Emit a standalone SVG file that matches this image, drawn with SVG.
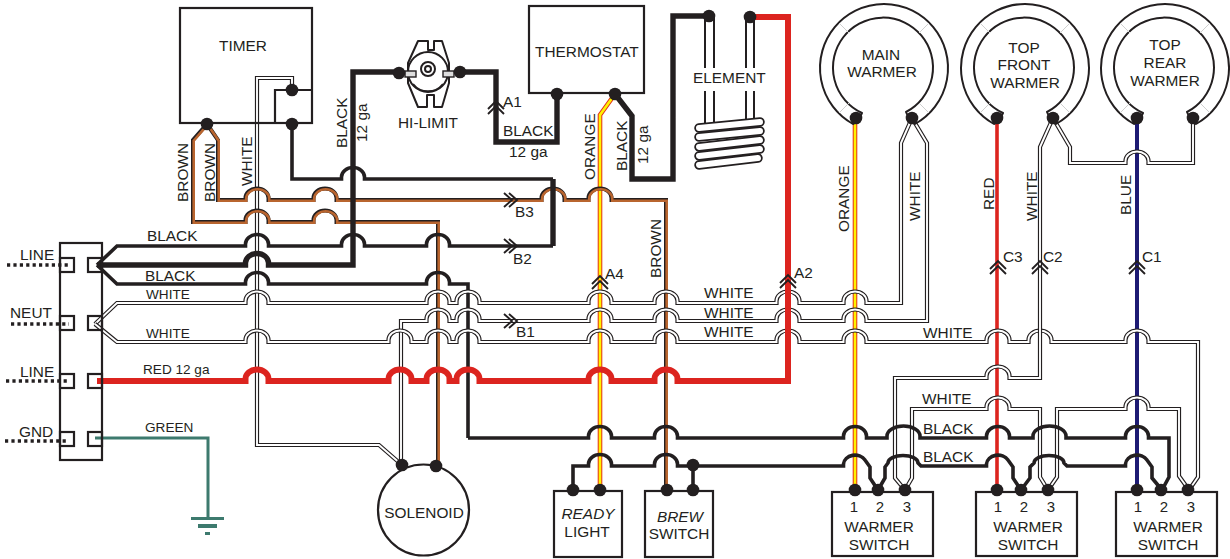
<svg xmlns="http://www.w3.org/2000/svg" width="1230" height="559" viewBox="0 0 1230 559">
<style>
text{font-family:"Liberation Sans",Arial,sans-serif;font-size:15.4px;fill:#231f20}
.m{text-anchor:middle}
.s13{font-size:13.6px}
.n{font-size:15px}
.i{font-style:italic}
.box{fill:none;stroke:#231f20;stroke-width:2.2}
.ln{fill:none;stroke:#231f20;stroke-width:2;stroke-linejoin:round}
.dot{fill:#231f20}
.wo{fill:none;stroke:#231f20;stroke-width:4.2}
.wi{fill:none;stroke:#fff;stroke-width:1.9}
.bo{fill:none;stroke:#231f20;stroke-width:4}
.bi{fill:none;stroke:#b9652f;stroke-width:2.6;transform:translate(.7px,.7px)}
.k{fill:none;stroke:#231f20;stroke-width:3.6}
.K{fill:none;stroke:#231f20;stroke-width:5.4}
.r{fill:none;stroke:#dc241f;stroke-width:6}
.r2{fill:none;stroke:#dc241f;stroke-width:3.6}
.oo{fill:none;stroke:#e0301e;stroke-width:4.6}
.oi{fill:none;stroke:#fff200;stroke-width:2.6}
.g{fill:none;stroke:#3d7a6e;stroke-width:3}
.dash{fill:none;stroke:#231f20;stroke-width:3.6;stroke-dasharray:3.2 3.2}
.chev{fill:none;stroke:#231f20;stroke-width:1.9}
.tick{fill:none;stroke:#cfcfcf;stroke-width:1}
</style>
<defs>
<path id="cu" d="M-8 8L0 0L8 8M-8 13L0 5L8 13"/>
<path id="cr" d="M-8 -7L0 0L-8 7M-3 -7L5 0L-3 7"/>
<circle id="d" r="6.3"/>
<path id="wT" d="M292 90V78H257V445H379L402 465"/>
<path id="w303" d="M95 324L117 303H245.5v-2a11.5 9.5 0 0 1 23 0v2H426.5v-2a11.5 9.5 0 0 1 23 0v2H456.5v-2a11.5 9.5 0 0 1 23 0v2H588.5v-2a11.5 9.5 0 0 1 23 0v2H654.5v-2a11.5 9.5 0 0 1 23 0v2H776.5v-2a11.5 9.5 0 0 1 23 0v2H843.5v-2a11.5 9.5 0 0 1 23 0v2H901V143L912 118"/>
<path id="w321" d="M401 465V321H426.5v-2a11.5 9.5 0 0 1 23 0v2H456.5v-2a11.5 9.5 0 0 1 23 0v2H588.5v-2a11.5 9.5 0 0 1 23 0v2H654.5v-2a11.5 9.5 0 0 1 23 0v2H776.5v-2a11.5 9.5 0 0 1 23 0v2H843.5v-2a11.5 9.5 0 0 1 23 0v2H927V143L912 118"/>
<path id="w341" d="M95 324L117 342H245.5v-2a11.5 9.5 0 0 1 23 0v2H388.5v-2a11.5 9.5 0 0 1 23 0v2H426.5v-2a11.5 9.5 0 0 1 23 0v2H456.5v-2a11.5 9.5 0 0 1 23 0v2H588.5v-2a11.5 9.5 0 0 1 23 0v2H654.5v-2a11.5 9.5 0 0 1 23 0v2H776.5v-2a11.5 9.5 0 0 1 23 0v2H843.5v-2a11.5 9.5 0 0 1 23 0v2H986.5v-2a11.5 9.5 0 0 1 23 0v2H1028.5v-2a11.5 9.5 0 0 1 23 0v2H1125.5v-2a11.5 9.5 0 0 1 23 0v2H1198V477L1189 490"/>
<path id="w378" d="M905 490L895 478V378H986.5v-2a11.5 9.5 0 0 1 23 0v2H1040V147L1053 118"/>
<path id="w409a" d="M905 490L912 478V409H986.5v-2a11.5 9.5 0 0 1 23 0v2H1040V477L1048 490"/>
<path id="w409b" d="M1048 490L1057 477V409H1125.5v-2a11.5 9.5 0 0 1 23 0v2H1179V476L1189 490"/>
<path id="w163" d="M1053 118L1070 147V163H1125.5v-2a11.5 9.5 0 0 1 23 0v2H1193V118"/>
<path id="b222" d="M207 124L193 140V222H245.5v-2a11.5 9.5 0 0 1 23 0v2H313.5v-2a11.5 9.5 0 0 1 23 0v2H438V465"/>
<path id="b200" d="M207 124L218 140V200H245.5v-2a11.5 9.5 0 0 1 23 0v2H313.5v-2a11.5 9.5 0 0 1 23 0v2H541.5v-2a11.5 9.5 0 0 1 23 0v2H588.5v-2a11.5 9.5 0 0 1 23 0v2H666V490"/>
<path id="o1" d="M615 94L600 115V490"/>
<path id="o2" d="M855 118V490"/>
</defs>

<g id="connectors">
<use href="#wT" class="wo"/><use href="#wT" class="wi"/>
<path class="r2" d="M997 118V490"/>
<path d="M1137 118V490" fill="none" stroke="#1d1a73" stroke-width="4"/>
<use href="#o1" class="oo"/><use href="#o1" class="oi"/>
<use href="#o2" class="oo"/><use href="#o2" class="oi"/>
<use href="#b222" class="bo"/><use href="#b222" class="bi"/>
<use href="#b200" class="bo"/><use href="#b200" class="bi"/>
<path class="K" d="M97 265H245.5v-2a11.5 9.5 0 0 1 23 0v2H353V72H399"/>
<path class="K" d="M460 72H496V142H557V94"/>
<path class="K" d="M615 94L632 116V179H673V16H709"/>
<path class="k" d="M292 124V179H341.5v-2a11.5 9.5 0 0 1 23 0v2H553"/>
<path class="K" d="M553 179V246"/>
<path class="k" d="M97 265L117 284H245.5v-2a11.5 9.5 0 0 1 23 0v2H426.5v-2a11.5 9.5 0 0 1 23 0v2H468V438"/>
<path class="k" d="M97 265L117 246H245.5v-2a11.5 9.5 0 0 1 23 0v2H341.5v-2a11.5 9.5 0 0 1 23 0v2H426.5v-2a11.5 9.5 0 0 1 23 0v2H553"/>
<use href="#w303" class="wo"/><use href="#w303" class="wi"/>
<use href="#w321" class="wo"/><use href="#w321" class="wi"/>
<use href="#w341" class="wo"/><use href="#w341" class="wi"/>
<use href="#w378" class="wo"/><use href="#w378" class="wi"/>
<use href="#w409a" class="wo"/><use href="#w409a" class="wi"/>
<use href="#w409b" class="wo"/><use href="#w409b" class="wi"/>
<use href="#w163" class="wo"/><use href="#w163" class="wi"/>
<path class="r" d="M97 381H245.5v-2a11.5 9.5 0 0 1 23 0v2H388.5v-2a11.5 9.5 0 0 1 23 0v2H426.5v-2a11.5 9.5 0 0 1 23 0v2H456.5v-2a11.5 9.5 0 0 1 23 0v2H588.5v-2a11.5 9.5 0 0 1 23 0v2H654.5v-2a11.5 9.5 0 0 1 23 0v2H788V17H750"/>
<path class="k" d="M468 438H588.5v-2a11.5 9.5 0 0 1 23 0v2H654.5v-2a11.5 9.5 0 0 1 23 0v2H843.5v-2a11.5 9.5 0 0 1 23 0v2H887v-2a16.5 10 0 0 1 33 0v2H986.5v-2a11.5 9.5 0 0 1 23 0v2H1033v-2a16.5 10 0 0 1 33 0v2H1125.5v-2a11.5 9.5 0 0 1 23 0v2H1169V477L1162 490"/>
<path class="k" d="M573 490V466H588.5v-2a11.5 9.5 0 0 1 23 0v2H654.5v-2a11.5 9.5 0 0 1 23 0v2H843.5v-2A11.5 9.5 0 0 1 865 460L870 467V478L878 490L885 478V467L888 463a15 7.5 0 0 1 30 0L921 466H986.5v-2A11.5 9.5 0 0 1 1008 460L1013 467V478L1021 490L1030 478V467L1034 463a15 7.5 0 0 1 30 0L1067 466H1125.5v-2A11.5 9.5 0 0 1 1147 460L1152 467V478L1162 490"/>
<path class="k" d="M693 466V490"/>
<path class="g" d="M95 438H208V518"/>
</g>

<g id="wire-labels">
<text x="147" y="241">BLACK</text>
<text x="145" y="281">BLACK</text>
<text x="146" y="299" class="s13">WHITE</text>
<text x="146" y="338" class="s13">WHITE</text>
<text x="143" y="374" class="s13">RED 12 ga</text>
<text x="145" y="432" class="s13">GREEN</text>
<text transform="translate(188 202) rotate(-90)">BROWN</text>
<text transform="translate(215 202) rotate(-90)">BROWN</text>
<text transform="translate(252 186) rotate(-90)">WHITE</text>
<text transform="translate(347 148) rotate(-90)">BLACK</text>
<text transform="translate(367 142) rotate(-90)">12 ga</text>
<text x="503" y="136">BLACK</text>
<text x="509" y="157">12 ga</text>
<text transform="translate(595 180) rotate(-90)">ORANGE</text>
<text transform="translate(627 171) rotate(-90)">BLACK</text>
<text transform="translate(648 164) rotate(-90)">12 ga</text>
<text transform="translate(661 278) rotate(-90)">BROWN</text>
<text transform="translate(849 232) rotate(-90)">ORANGE</text>
<text transform="translate(920 221) rotate(-90)">WHITE</text>
<text transform="translate(994 210) rotate(-90)">RED</text>
<text transform="translate(1037 221) rotate(-90)">WHITE</text>
<text transform="translate(1131 215) rotate(-90)">BLUE</text>
<text x="704" y="298">WHITE</text>
<text x="704" y="318">WHITE</text>
<text x="704" y="337">WHITE</text>
<text x="923" y="338">WHITE</text>
<text x="922" y="404">WHITE</text>
<text x="923" y="434">BLACK</text>
<text x="923" y="462">BLACK</text>
<g class="chev">
<use href="#cr" x="512" y="200"/><use href="#cr" x="512" y="246"/><use href="#cr" x="512" y="321"/>
<use href="#cu" x="496" y="101"/><use href="#cu" x="600" y="276"/><use href="#cu" x="788" y="275"/>
<use href="#cu" x="998" y="261"/><use href="#cu" x="1040" y="261"/><use href="#cu" x="1137" y="261"/>
</g>
<text x="515" y="217">B3</text>
<text x="513" y="264">B2</text>
<text x="516" y="337">B1</text>
<text x="503" y="107">A1</text>
<text x="605" y="279">A4</text>
<text x="794" y="278">A2</text>
<text x="1003" y="262">C3</text>
<text x="1043" y="262">C2</text>
<text x="1142" y="262">C1</text>
</g>

<g id="terminal-block">
<rect class="box" x="60" y="243" width="42" height="217"/>
<rect class="box" x="60" y="258" width="14" height="14"/>
<rect class="box" x="88" y="258" width="14" height="14"/>
<rect class="box" x="60" y="316" width="14" height="14"/>
<rect class="box" x="88" y="316" width="14" height="14"/>
<rect class="box" x="60" y="374" width="14" height="14"/>
<rect class="box" x="88" y="374" width="14" height="14"/>
<rect class="box" x="60" y="432" width="14" height="14"/>
<rect class="box" x="88" y="432" width="14" height="14"/>
<path class="dash" d="M7 265H69M11 324H69M6 381H69M5 441H69"/>
<text x="20" y="260">LINE</text>
<text x="10" y="318">NEUT</text>
<text x="20" y="377">LINE</text>
<text x="19" y="437">GND</text>
</g>

<g id="timer">
<rect class="box" x="180" y="8" width="132" height="115"/>
<path class="box" d="M312 90H275V123"/>
<use href="#d" x="292" y="90" class="dot"/>
<use href="#d" x="292" y="124" class="dot"/>
<use href="#d" x="207" y="124" class="dot"/>
<text x="243" y="51" class="m">TIMER</text>
</g>

<g id="hi-limit">
<path class="ln" d="M418 41H428V50H434V41H442L449 63V83L442 107H434V95H427V107H418L408 83V63Z"/>
<circle class="ln" cx="428" cy="72" r="20"/>
<path d="M413 84a19 19 0 0 0 30 0" class="ln" stroke-width="1.2"/>
<circle class="ln" cx="428" cy="69" r="7" stroke-width="1.4"/>
<circle class="ln" cx="428" cy="69" r="3" stroke-width="1.2"/>
<rect x="405" y="71" width="11" height="6" fill="#ddd" stroke="#231f20" stroke-width="1.4"/>
<rect x="443" y="71" width="11" height="6" fill="#ddd" stroke="#231f20" stroke-width="1.4"/>
<use href="#d" x="399" y="73" class="dot"/>
<use href="#d" x="460" y="72" class="dot"/>
<text x="398" y="128">HI-LIMIT</text>
</g>

<g id="thermostat">
<rect class="box" x="529" y="6" width="115" height="87"/>
<use href="#d" x="557" y="94" class="dot"/>
<use href="#d" x="615" y="94" class="dot"/>
<text x="535" y="57">THERMOSTAT</text>
</g>

<g id="element">
<path class="ln" d="M705 16V124M714 16V124M746 17V122M754 17V122"/>
<rect x="692" y="68" width="76" height="23" fill="#fff"/>
<text x="693" y="83">ELEMENT</text>
<g fill="none" stroke-linecap="round">
<path d="M699 165L758 158" stroke="#231f20" stroke-width="9.5"/><path d="M699 165L758 158" stroke="#fff" stroke-width="6"/>
<path d="M699 156L760 149" stroke="#231f20" stroke-width="9.5"/><path d="M699 156L760 149" stroke="#fff" stroke-width="6"/>
<path d="M699 147L760 140" stroke="#231f20" stroke-width="9.5"/><path d="M699 147L760 140" stroke="#fff" stroke-width="6"/>
<path d="M699 137L760 131" stroke="#231f20" stroke-width="9.5"/><path d="M699 137L760 131" stroke="#fff" stroke-width="6"/>
<path d="M699 128L760 122" stroke="#231f20" stroke-width="9.5"/><path d="M699 128L760 122" stroke="#fff" stroke-width="6"/>
</g>
<use href="#d" x="709" y="16" class="dot"/>
<use href="#d" x="750" y="17" class="dot"/>
</g>

<g id="main-warmer">
<path class="ln" d="M853 124A64 64 0 1 1 915 124Q910 122 906 112A50 50 0 1 0 862 113Q858 122 853 124Z"/>
<path class="tick" d="M839 23L849 33M929 23L919 33M839 113L849 103M929 113L919 103"/>
<use href="#d" x="856" y="118" class="dot"/>
<use href="#d" x="912" y="118" class="dot"/>
<text x="881" y="60" class="m">MAIN</text>
<text x="882" y="77" class="m">WARMER</text>
</g>

<g id="top-front-warmer">
<path class="ln" d="M994 124A64 64 0 1 1 1056 124Q1051 122 1047 112A50 50 0 1 0 1003 113Q999 122 994 124Z"/>
<path class="tick" d="M980 23L990 33M1070 23L1060 33M980 113L990 103M1070 113L1060 103"/>
<use href="#d" x="997" y="118" class="dot"/>
<use href="#d" x="1053" y="118" class="dot"/>
<text x="1024" y="53" class="m">TOP</text>
<text x="1024" y="70" class="m">FRONT</text>
<text x="1025" y="88" class="m">WARMER</text>
</g>

<g id="top-rear-warmer">
<path class="ln" d="M1134 124A64 64 0 1 1 1196 124Q1191 122 1187 112A50 50 0 1 0 1143 113Q1139 122 1134 124Z"/>
<path class="tick" d="M1120 23L1130 33M1210 23L1200 33M1120 113L1130 103M1210 113L1200 103"/>
<use href="#d" x="1137" y="118" class="dot"/>
<use href="#d" x="1193" y="118" class="dot"/>
<text x="1165" y="50" class="m">TOP</text>
<text x="1165" y="68" class="m">REAR</text>
<text x="1165" y="86" class="m">WARMER</text>
</g>

<g id="solenoid">
<circle class="box" cx="423.5" cy="510" r="45.5"/>
<use href="#d" x="402" y="465" class="dot"/>
<use href="#d" x="436" y="466" class="dot"/>
<text x="424" y="518" class="m">SOLENOID</text>
</g>

<g id="ground">
<rect x="191" y="517" width="33" height="3" fill="#3d7a6e"/>
<rect x="198" y="524" width="19" height="4" fill="#3d7a6e"/>
<rect x="205" y="532" width="5" height="3" fill="#3d7a6e"/>
</g>

<g id="ready-light">
<rect class="box" x="554" y="491" width="68" height="66"/>
<use href="#d" x="573" y="490" class="dot"/>
<use href="#d" x="600" y="490" class="dot"/>
<text x="588" y="519" class="m i">READY</text>
<text x="587" y="537" class="m">LIGHT</text>
</g>

<g id="brew-switch">
<rect class="box" x="645" y="491" width="68" height="66"/>
<use href="#d" x="667" y="490" class="dot"/>
<use href="#d" x="693" y="490" class="dot"/>
<use href="#d" x="693" y="465" class="dot"/>
<text x="680" y="522" class="m i">BREW</text>
<text x="679" y="539" class="m">SWITCH</text>
</g>

<g id="warmer-switch-1">
<rect class="box" x="832" y="492" width="101" height="64"/>
<use href="#d" x="855" y="490" class="dot"/>
<use href="#d" x="878" y="490" class="dot"/>
<use href="#d" x="905" y="490" class="dot"/>
<text x="854" y="512" class="m n">1</text>
<text x="880" y="512" class="m n">2</text>
<text x="907" y="512" class="m n">3</text>
<text x="879" y="532" class="m">WARMER</text>
<text x="879" y="550" class="m">SWITCH</text>
</g>

<g id="warmer-switch-2">
<rect class="box" x="976" y="492" width="101" height="64"/>
<use href="#d" x="997" y="490" class="dot"/>
<use href="#d" x="1021" y="490" class="dot"/>
<use href="#d" x="1048" y="490" class="dot"/>
<text x="998" y="512" class="m n">1</text>
<text x="1024" y="512" class="m n">2</text>
<text x="1051" y="512" class="m n">3</text>
<text x="1028" y="532" class="m">WARMER</text>
<text x="1028" y="550" class="m">SWITCH</text>
</g>

<g id="warmer-switch-3">
<rect class="box" x="1116" y="492" width="101" height="64"/>
<use href="#d" x="1137" y="490" class="dot"/>
<use href="#d" x="1161" y="490" class="dot"/>
<use href="#d" x="1188" y="490" class="dot"/>
<text x="1138" y="512" class="m n">1</text>
<text x="1164" y="512" class="m n">2</text>
<text x="1191" y="512" class="m n">3</text>
<text x="1168" y="532" class="m">WARMER</text>
<text x="1168" y="550" class="m">SWITCH</text>
</g>
</svg>
